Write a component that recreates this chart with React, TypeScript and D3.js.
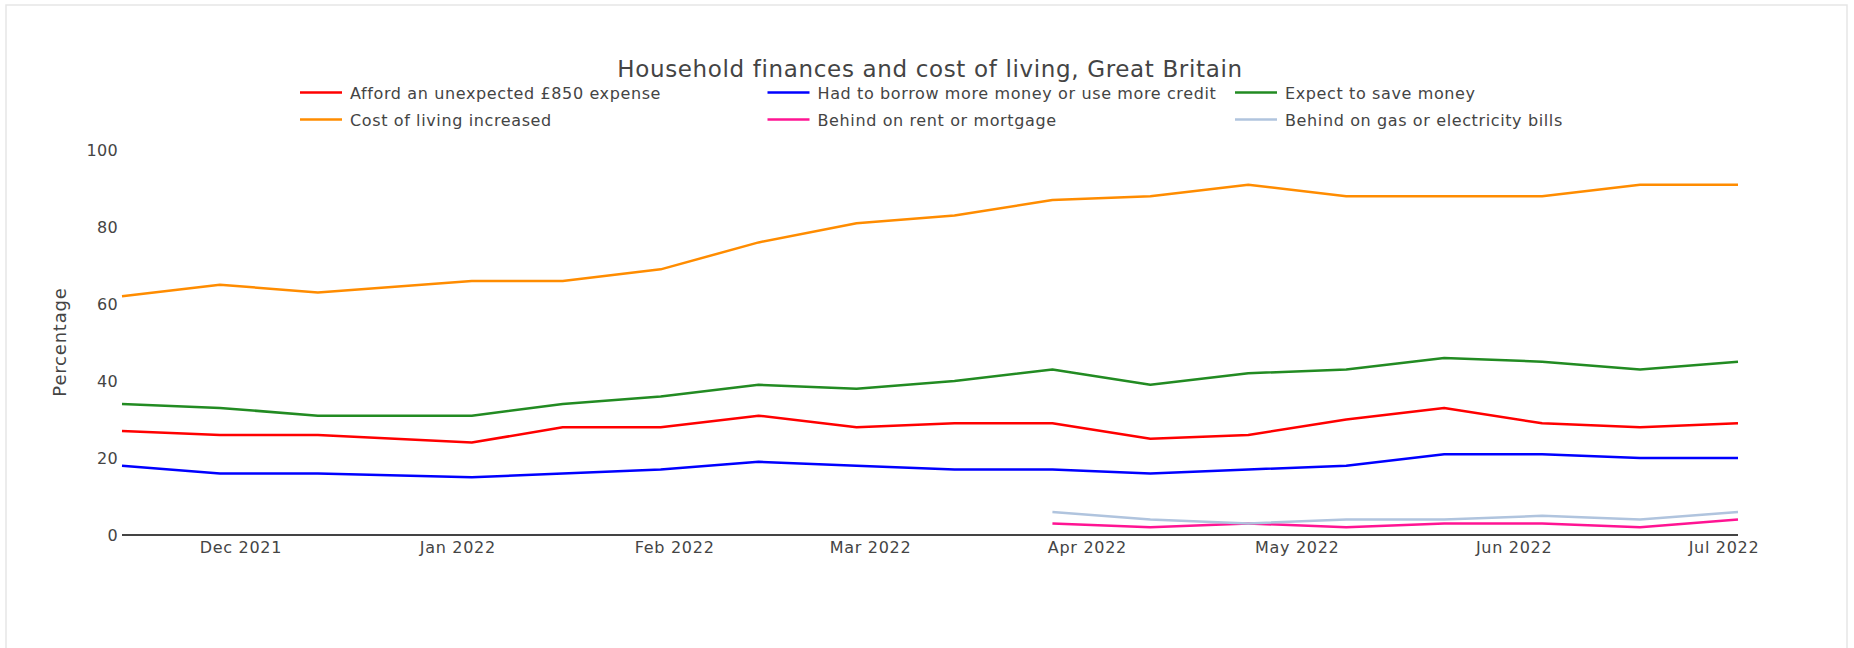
import React from "react";
import * as d3 from "d3";

const dates = [
  "2021-11-14", "2021-11-28", "2021-12-12", "2022-01-03", "2022-01-16", "2022-01-30",
  "2022-02-13", "2022-02-27", "2022-03-13", "2022-03-27", "2022-04-10", "2022-04-24",
  "2022-05-08", "2022-05-22", "2022-06-05", "2022-06-19", "2022-07-03",
];

const affordExpense = [27, 26, 26, 24, 28, 28, 31, 28, 29, 29, 25, 26, 30, 33, 29, 28, 29];
const borrowMore = [18, 16, 16, 15, 16, 17, 19, 18, 17, 17, 16, 17, 18, 21, 21, 20, 20];
const expectSave = [34, 33, 31, 31, 34, 36, 39, 38, 40, 43, 39, 42, 43, 46, 45, 43, 45];
const costIncreased = [62, 65, 63, 66, 66, 69, 76, 81, 83, 87, 88, 91, 88, 88, 88, 91, 91];
const behindRent: (number | null)[] = [null, null, null, null, null, null, null, null, null, 3, 2, 3, 2, 3, 3, 2, 4];
const behindBills: (number | null)[] = [null, null, null, null, null, null, null, null, null, 6, 4, 3, 4, 4, 5, 4, 6];

const seriesNames = [
  "Afford an unexpected £850 expense",
  "Had to borrow more money or use more credit",
  "Expect to save money",
  "Cost of living increased",
  "Behind on rent or mortgage",
  "Behind on gas or electricity bills",
];
const seriesValues = [affordExpense, borrowMore, expectSave, costIncreased, behindRent, behindBills];
const seriesColors = ["#ff0000", "#0000ff", "#228b22", "#ff8c00", "#ff1493", "#b0c4de"];

const yTicks = [0, 20, 40, 60, 80, 100];
const xTickDates = ["2021-12-01", "2022-01-01", "2022-02-01", "2022-03-01", "2022-04-01", "2022-05-01", "2022-06-01", "2022-07-01"];
const title = "Household finances and cost of living, Great Britain";
const yTitle = "Percentage";

const W = 1854;
const H = 648;
const FONT = "'DejaVu Sans', Verdana, sans-serif";
const TXT = "#444";

export default function App() {
  const parse = d3.utcParse("%Y-%m-%d");
  const xDates = dates.map((d) => parse(d) as Date);
  const x = d3.scaleUtc().domain([xDates[0], xDates[xDates.length - 1]]).range([122, 1738]);
  const y = d3.scaleLinear().domain([0, 100]).range([535, 150]);
  const fmt = d3.utcFormat("%b %Y");

  const line = d3
    .line<[Date, number | null]>()
    .defined((d) => d[1] !== null)
    .x((d) => x(d[0]))
    .y((d) => y(d[1] as number));

  const legendX0 = 300;
  const legendColW = 467.5;
  const legendY0 = 92.5;
  const legendRowH = 27;

  return (
    <svg
      width={W}
      height={H}
      style={{ position: "absolute", left: 0, top: 0, background: "#fff" }}
      fontFamily={FONT}
    >
      <rect x={6} y={5} width={1841} height={650} fill="#fff" stroke="#e6e6e6" strokeWidth={1.5} />

      <text x={930} y={77} textAnchor="middle" fontSize={23} letterSpacing={0.65} fill={TXT}>
        {title}
      </text>

      {seriesNames.map((name, i) => {
        const col = i % 3;
        const row = Math.floor(i / 3);
        const lx = legendX0 + col * legendColW;
        const ly = legendY0 + row * legendRowH;
        return (
          <g key={name}>
            <line x1={lx} x2={lx + 42} y1={ly} y2={ly} stroke={seriesColors[i]} strokeWidth={2.5} />
            <text x={lx + 50} y={ly + 6} fontSize={16} letterSpacing={0.62} fill={TXT}>
              {name}
            </text>
          </g>
        );
      })}

      {yTicks.map((t) => (
        <text key={t} x={118} y={y(t) + 5.5} textAnchor="end" fontSize={16} letterSpacing={0.3} fill={TXT}>
          {t}
        </text>
      ))}

      <text
        transform={`translate(59,342) rotate(-90)`}
        textAnchor="middle"
        dominantBaseline="central"
        fontSize={18}
        letterSpacing={0.8}
        fill={TXT}
      >
        {yTitle}
      </text>

      {xTickDates.map((s) => {
        const d = parse(s) as Date;
        return (
          <text key={s} x={x(d)} y={553} textAnchor="middle" fontSize={16} letterSpacing={0.7} fill={TXT}>
            {fmt(d)}
          </text>
        );
      })}

      {seriesValues.map((vals, i) => (
        <path
          key={seriesNames[i]}
          d={line(xDates.map((d, j) => [d, vals[j]] as [Date, number | null])) || ""}
          fill="none"
          stroke={seriesColors[i]}
          strokeWidth={2.5}
          strokeLinejoin="round"
        />
      ))}

      <line x1={122} x2={1738} y1={535} y2={535} stroke={TXT} strokeWidth={2} />
    </svg>
  );
}
